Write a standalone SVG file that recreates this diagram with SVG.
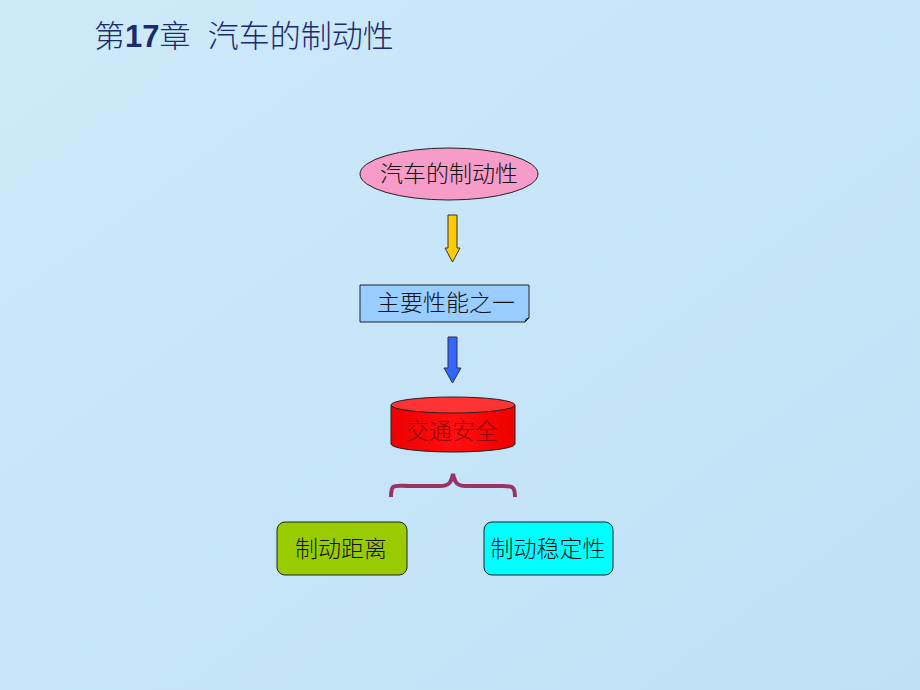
<svg xmlns="http://www.w3.org/2000/svg" width="920" height="690" viewBox="0 0 920 690">
<defs>
<linearGradient id="bg" x1="0" y1="0" x2="1" y2="1">
<stop offset="0" stop-color="#cdeafa"/>
<stop offset="0.5" stop-color="#c6e5f8"/>
<stop offset="1" stop-color="#bfe0f6"/>
</linearGradient>
<linearGradient id="cyl" x1="0" y1="0" x2="1" y2="0">
<stop offset="0" stop-color="#ee0000"/>
<stop offset="0.5" stop-color="#ff1010"/>
<stop offset="1" stop-color="#ee0000"/>
</linearGradient>
</defs>
<style>
.t{font-family:"Liberation Sans","Noto Sans CJK SC",sans-serif;font-size:23px;font-weight:300;fill:#111;text-anchor:middle}
.ttl{font-family:"Liberation Sans","Noto Sans CJK SC",sans-serif;font-size:31px;font-weight:300;fill:#1c2a6e}
.s{stroke:#222;stroke-width:1}
</style>
<rect width="920" height="690" fill="url(#bg)"/>
<text class="ttl" x="94" y="47" xml:space="preserve">第<tspan font-weight="bold">17</tspan>章  汽车的制动性</text>
<g id="n1">
<ellipse cx="449" cy="174" rx="89" ry="26" fill="#f79bc9" class="s"/>
<text class="t" x="449" y="182">汽车的制动性</text>
</g>
<g id="connectors">
<path d="M448 215 H457 V248 H460 L452.5 262 L445 248 H448 Z" fill="#ffcc00" stroke="#333" stroke-width="1"/>
<path d="M448 337 H457 V368 H461 L452.5 383 L444 368 H448 Z" fill="#3366ff" stroke="#333" stroke-width="1"/>
<path d="M391 497 C391 483 394 486 410 486 H440 C450 486 451 482 453 474 C455 482 456 486 466 486 H498 C512 486 515 485 515 497" fill="none" stroke="#993366" stroke-width="4"/>
</g>
<g id="n2">
<path d="M360 285 H529 V318 L525 322 H360 Z" fill="#99ccff" class="s"/>
<path d="M525 322 L526 319 L529 318" fill="none" stroke="#222" stroke-width="1"/>
<text class="t" x="446" y="311">主要性能之一</text>
</g>
<g id="n3">
<path d="M391 405 V444 A62 8 0 0 0 515 444 V405" fill="url(#cyl)" class="s"/>
<ellipse cx="453" cy="405" rx="62" ry="8" fill="#ff3333" class="s"/>
<text class="t" x="452" y="439" style="fill:#8a0000">交通安全</text>
</g>
<g id="n4">
<rect x="277" y="522" width="130" height="53" rx="8" fill="#99cc00" class="s"/>
<text class="t" x="341" y="557">制动距离</text>
</g>
<g id="n5">
<rect x="484" y="522" width="129" height="53" rx="8" fill="#00ffff" class="s"/>
<text class="t" x="548" y="557">制动稳定性</text>
</g>
</svg>
